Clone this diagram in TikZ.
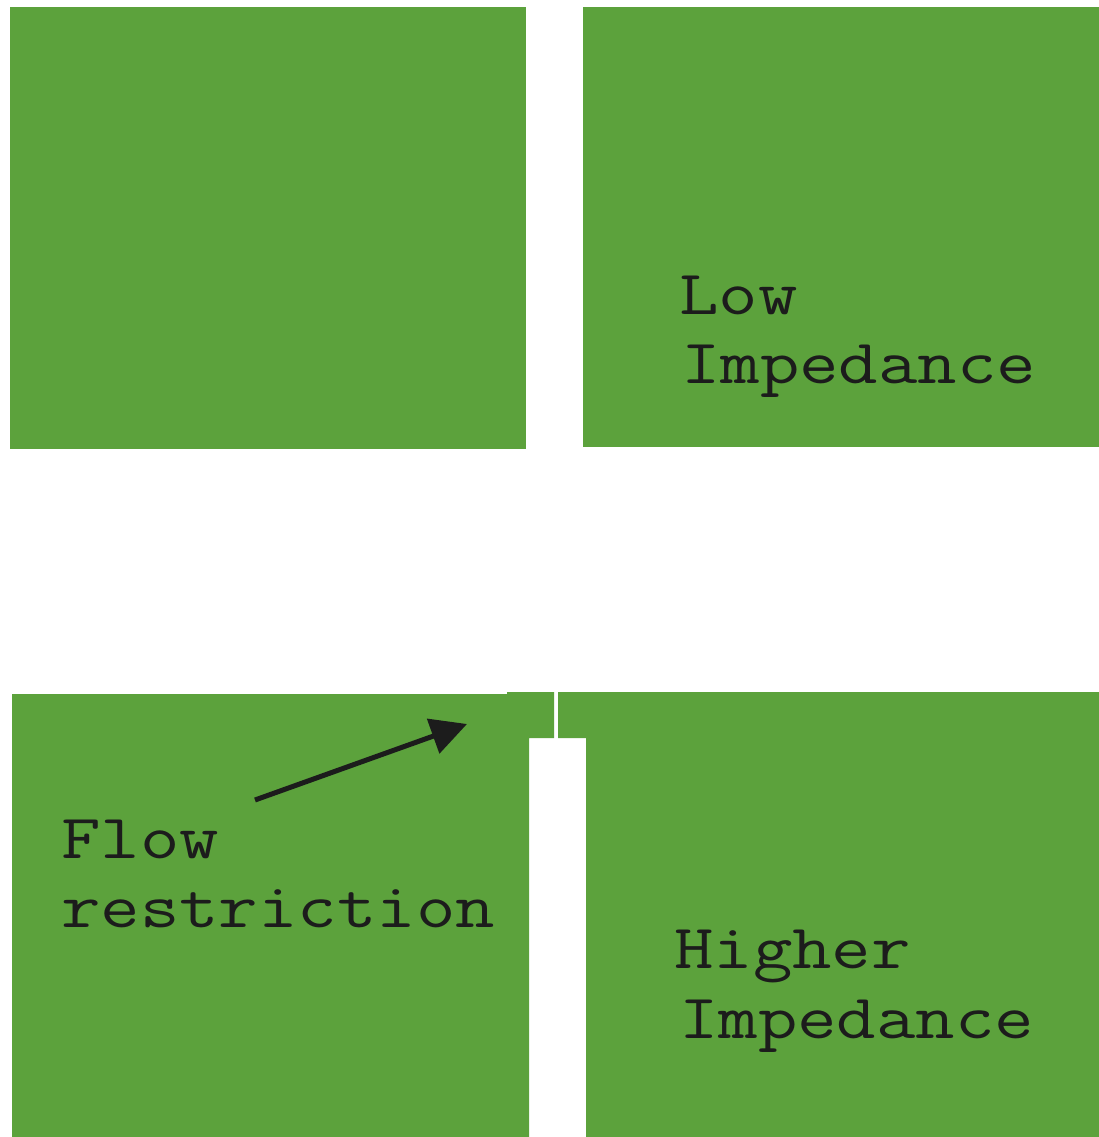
\documentclass[tikz,border=0pt]{standalone}
\usepackage{fontspec}
\usetikzlibrary{arrows.meta}
\definecolor{pad}{RGB}{92,162,60}
\definecolor{ink}{RGB}{28,28,28}
\tikzset{
  padfill/.style={fill=pad, draw=none},
  lbl/.style={anchor=base west, inner sep=0pt, text=ink, xscale=1.215, transform shape,
    font=\ttfamily\fontsize{63}{68}\selectfont},
  pointer/.style={draw=ink, line width=5pt, -{Triangle[length=36pt,width=36pt]}}
}
\begin{document}
\begin{tikzpicture}[x=1pt,y=-1pt]
\useasboundingbox (0,0) rectangle (1099,1137);
% top pads
\fill[padfill] (10,7) rectangle (526,449);
\fill[padfill] (583,7) rectangle (1099,447);
% bottom pads with tabs
\fill[padfill] (12,694) -- (507,694) -- (507,692) -- (554,692) -- (554,738) -- (529,738) -- (529,1137) -- (12,1137) -- cycle;
\fill[padfill] (558,692) -- (1099,692) -- (1099,1137) -- (586,1137) -- (586,738) -- (558,738) -- cycle;
% labels
\node[lbl] (low1) at (679,314) {Low};
\node[lbl] (low2) at (681,383) {Impedance};
\node[lbl] (flow1) at (61,858) {Flow};
\node[lbl] (flow2) at (61,927) {restriction};
\node[lbl] (hi1) at (674,968) {Higher};
\node[lbl] (hi2) at (679,1038) {Impedance};
% arrow
\coordinate (as) at (255,800);
\coordinate (ae) at (467,724);
\draw[pointer] (as) -- (ae);
\end{tikzpicture}
\end{document}
